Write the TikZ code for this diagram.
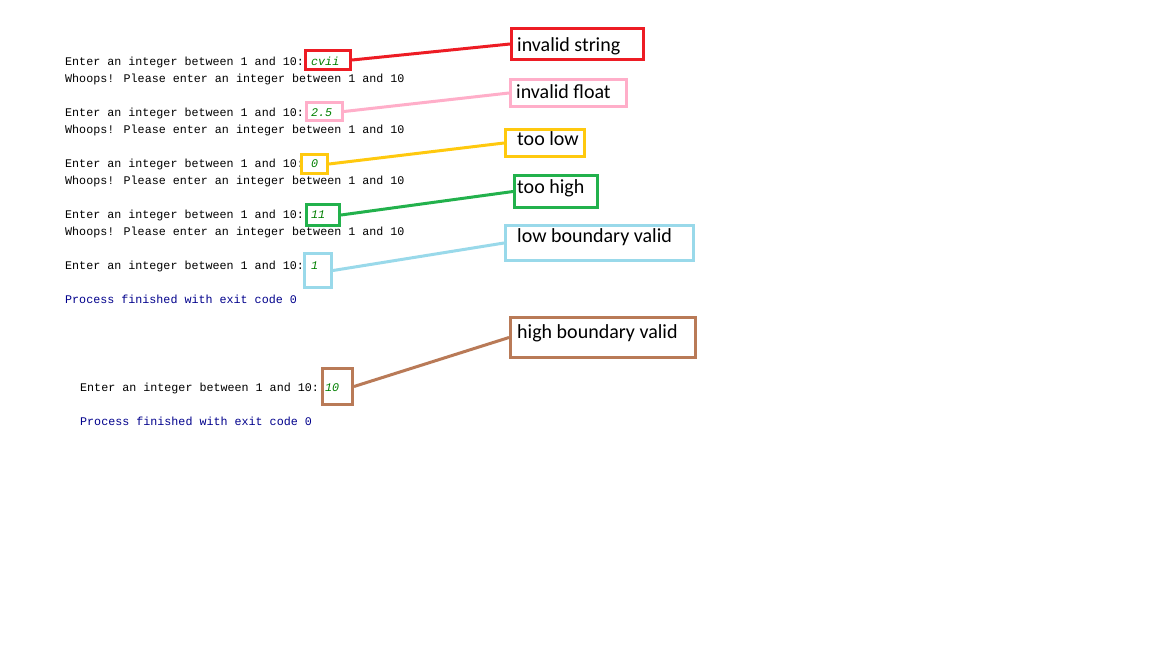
\documentclass[tikz,border=0pt]{standalone}
\usepackage{fontspec}
\setmainfont{Carlito}
\newfontfamily\consfont{Liberation Mono}
\definecolor{cred}{RGB}{237,28,36}
\definecolor{cpink}{RGB}{255,174,201}
\definecolor{cyellow}{RGB}{255,201,14}
\definecolor{cgreen}{RGB}{34,177,76}
\definecolor{cblue}{RGB}{153,217,234}
\definecolor{cbrown}{RGB}{185,122,87}
\definecolor{inputgreen}{RGB}{0,128,0}
\definecolor{sysblue}{RGB}{0,0,140}
\begin{document}
\begin{tikzpicture}[x=1pt,y=-1pt,
  mono/.style={font=\consfont\fontsize{11.7}{14}\selectfont, anchor=base west, inner sep=0pt},
  inp/.style={font=\consfont\itshape\fontsize{11.7}{14}\selectfont, text=inputgreen, anchor=base west, inner sep=0pt},
  sysout/.style={mono, text=sysblue},
  box/.style={draw=#1, line width=3pt, inner sep=0pt, rectangle},
  lbl/.style={font=\fontsize{20}{24}\selectfont, anchor=base west, inner sep=0pt},
  conn/.style={draw=#1, line width=3pt}]
\useasboundingbox (0,0) rectangle (1152,648);
\fill[white] (0,0) rectangle (1152,648);

% console text, first run
\node[mono] (p1) at (65,65) {Enter an integer between 1 and 10:};
\node[inp] (v1) at (311,65) {cvii};
\node[mono] (w1) at (65,82) {Whoops! Please enter an integer between 1 and 10};
\node[mono] (p2) at (65,116) {Enter an integer between 1 and 10:};
\node[inp] (v2) at (311,116) {2.5};
\node[mono] (w2) at (65,133) {Whoops! Please enter an integer between 1 and 10};
\node[mono] (p3) at (65,167) {Enter an integer between 1 and 10:};
\node[inp] (v3) at (311,167) {0};
\node[mono] (w3) at (65,184) {Whoops! Please enter an integer between 1 and 10};
\node[mono] (p4) at (65,218) {Enter an integer between 1 and 10:};
\node[inp] (v4) at (311,218) {11};
\node[mono] (w4) at (65,235) {Whoops! Please enter an integer between 1 and 10};
\node[mono] (p5) at (65,269) {Enter an integer between 1 and 10:};
\node[inp] (v5) at (311,269) {1};
\node[sysout] (e1) at (65,303) {Process finished with exit code 0};

% second run
\node[mono] (p6) at (80,391) {Enter an integer between 1 and 10:};
\node[inp] (v6) at (325,391) {10};
\node[sysout] (e2) at (80,425) {Process finished with exit code 0};

% input boxes
\node[box=cred, minimum width=45pt, minimum height=19pt] (in1) at (328,60) {};
\node[box=cpink, minimum width=36pt, minimum height=18pt] (in2) at (324.5,111.5) {};
\node[box=cyellow, minimum width=26pt, minimum height=19pt] (in3) at (314.5,164) {};
\node[box=cgreen, minimum width=33pt, minimum height=21pt] (in4) at (323,215) {};
\node[box=cblue, minimum width=27pt, minimum height=34pt] (in5) at (318,270.5) {};
\node[box=cbrown, minimum width=30pt, minimum height=36pt] (in6) at (337.5,386.5) {};

% label boxes
\node[box=cred, minimum width=132pt, minimum height=31pt] (lb1) at (577.5,44) {};
\node[box=cpink, minimum width=116pt, minimum height=27pt] (lb2) at (568.5,93) {};
\node[box=cyellow, minimum width=79pt, minimum height=27pt] (lb3) at (545,143) {};
\node[box=cgreen, minimum width=83pt, minimum height=32pt] (lb4) at (556,191.5) {};
\node[box=cblue, minimum width=188pt, minimum height=35pt] (lb5) at (599.5,243) {};
\node[box=cbrown, minimum width=185pt, minimum height=40pt] (lb6) at (603,337.5) {};

% label texts
\node[lbl] (t1) at (517,51) {invalid string};
\node[lbl] (t2) at (516,98) {invalid float};
\node[lbl] (t3) at (517,145) {too low};
\node[lbl] (t4) at (517,193) {too high};
\node[lbl] (t5) at (517,242) {low boundary valid};
\node[lbl] (t6) at (517,338) {high boundary valid};

% connectors
\draw[conn=cred] (in1.east) -- (lb1.west);
\draw[conn=cpink] (in2.east) -- (lb2.west);
\draw[conn=cyellow] (in3.east) -- (lb3.west);
\draw[conn=cgreen] (in4.east) -- (lb4.west);
\draw[conn=cblue] (in5.east) -- (lb5.west);
\draw[conn=cbrown] (in6.east) -- (lb6.west);
\end{tikzpicture}
\end{document}
